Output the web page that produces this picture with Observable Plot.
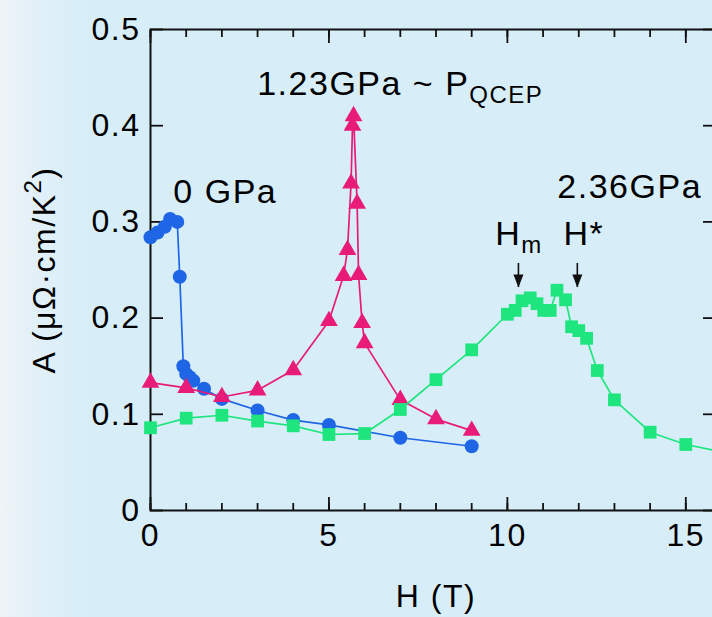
<!DOCTYPE html>
<html>
<head>
<meta charset="utf-8">
<script src="https://cdn.jsdelivr.net/npm/d3@7"></script>
<script src="https://cdn.jsdelivr.net/npm/@observablehq/plot@0.6"></script>
<style>
  html, body { margin: 0; padding: 0; overflow: hidden; width: 712px; height: 617px; }
  body { background: linear-gradient(to right, #eef3f6 0px, #e2f0f8 35px, #d7eef9 85px, #d7eef9 100%); }
  #chart svg text { letter-spacing: 1.5px; }
</style>
</head>
<body>
<div id="chart"></div>
<script>
// A coefficient (μΩ·cm/K²) versus field H (T) at three pressures
const gpa0H = [0, 0.2, 0.4, 0.55, 0.75, 0.82, 0.92, 1.0, 1.1, 1.2, 1.5, 2, 3, 4, 5, 7, 9];
const gpa0A = [0.284, 0.289, 0.295, 0.303, 0.300, 0.243, 0.150, 0.142, 0.1386, 0.135, 0.1265, 0.116, 0.104, 0.094, 0.089, 0.0756, 0.0668];

const gpa123H = [0, 1, 2, 3, 4, 5, 5.41, 5.52, 5.62, 5.66, 5.69, 5.79, 5.83, 5.93, 6.0, 7, 8, 9];
const gpa123A = [0.133, 0.1275, 0.118, 0.125, 0.146, 0.197, 0.244, 0.271, 0.340, 0.400, 0.410, 0.319, 0.245, 0.195, 0.174, 0.115, 0.095, 0.083];

const gpa236H = [0, 1, 2, 3, 4, 5, 6, 7, 8, 9, 10, 10.22, 10.41, 10.64, 10.83, 11.02, 11.2, 11.39, 11.63, 11.8, 12.0, 12.22, 12.52, 13, 14, 15, 16];
const gpa236A = [0.086, 0.096, 0.099, 0.093, 0.088, 0.079, 0.080, 0.105, 0.136, 0.167, 0.204, 0.208, 0.218, 0.221, 0.215, 0.208, 0.208, 0.229, 0.219, 0.191, 0.187, 0.179, 0.1455, 0.115, 0.0814, 0.0686, 0.061];

// Tick values and labels
const xMajor = [0, 5, 10, 15];
const xMinor = d3.range(0, 17);
const yMajor = [0, 0.1, 0.2, 0.3, 0.4, 0.5];
const yTickLabels = ["0", "0.1", "0.2", "0.3", "0.4", "0.5"];

// Annotations: text, subscript, anchor point (H, A)
const noteText = ["0 GPa", "1.23GPa ~ P", "2.36GPa", "H", "H*"];
const noteSub = ["", "QCEP", "", "m", ""];
const noteH = [0.64, 2.99, 11.40, 9.66, 11.57];
const noteA = [0.3306, 0.443, 0.336, 0.287, 0.287];

// Arrows marking Hm and H*
const arrowH = [10.31, 11.96];
const arrowTop = [0.2568, 0.2568];
const arrowTip = [0.2318, 0.2318];

const blue = "#1f66e6", pink = "#e81c78", green = "#1ee57e", ink = "#111", textInk = "#000";

const zip = (xs, ys) => xs.map((x, i) => ({H: x, A: ys[i]}));
const s0 = zip(gpa0H, gpa0A);
const s1 = zip(gpa123H, gpa123A);
const s2 = zip(gpa236H, gpa236A);
const notes = noteText.map((t, i) => ({t, sub: noteSub[i], H: noteH[i], A: noteA[i]}));
const arrows = arrowH.map((h, i) => ({H: h, top: arrowTop[i], tip: arrowTip[i]}));

// Narrow filled arrowhead, tip at the origin pointing down
const arrowHead = {
  draw(ctx) {
    ctx.moveTo(0, 0);
    ctx.lineTo(-5, -13);
    ctx.lineTo(5, -13);
    ctx.closePath();
  }
};

const font = "'Liberation Sans', Arial, Helvetica, sans-serif";
const yLabel = "A (μΩ·cm/K)";

const chart = Plot.plot({
  width: 712,
  height: 617,
  marginLeft: 150,
  marginRight: -9,
  marginTop: 29,
  marginBottom: 107,
  style: {background: "transparent", fontFamily: font, overflow: "hidden", color: textInk},
  x: {domain: [0, 16]},
  y: {domain: [0, 0.5]},
  marks: [
    Plot.frame({stroke: ink, strokeWidth: 2}),
    // minor and major ticks, pointing inward
    Plot.axisX(xMinor, {anchor: "bottom", tickSize: -7, fill: "none", stroke: ink, strokeWidth: 1.8, label: null}),
    Plot.axisX(xMinor, {anchor: "top", tickSize: -7, fill: "none", stroke: ink, strokeWidth: 1.8, label: null}),
    Plot.axisX(xMajor, {anchor: "top", tickSize: -13, fill: "none", stroke: ink, strokeWidth: 1.8, label: null}),
    Plot.axisX(xMajor, {
      anchor: "bottom", tickSize: -13, tickPadding: 26, stroke: ink, strokeWidth: 1.8, fill: textInk,
      fontSize: 32, tickFormat: d => String(d),
      label: "H (T)", labelAnchor: "center", labelArrow: "none", labelOffset: 96
    }),
    Plot.axisY(yMajor, {
      anchor: "left", tickSize: -13, tickPadding: 23, stroke: ink, strokeWidth: 1.8, fill: textInk,
      fontSize: 32, tickFormat: (d, i) => yTickLabels[i],
      label: yLabel, labelAnchor: "center", labelArrow: "none", labelOffset: 118
    }),
    Plot.axisY(yMajor, {anchor: "right", tickSize: -19, fill: "none", stroke: ink, strokeWidth: 1.8, label: null}),

    // 0 GPa
    Plot.line(s0, {x: "H", y: "A", stroke: blue, strokeWidth: 1.7}),
    Plot.dot(s0, {x: "H", y: "A", fill: blue, r: 7, symbol: "circle"}),
    // 1.23 GPa
    Plot.line(s1, {x: "H", y: "A", stroke: pink, strokeWidth: 1.7}),
    Plot.dot(s1, {x: "H", y: "A", fill: pink, r: 6.6, symbol: "triangle"}),
    // 2.36 GPa
    Plot.line(s2, {x: "H", y: "A", stroke: green, strokeWidth: 1.7}),
    Plot.dot(s2, {x: "H", y: "A", fill: green, r: 7.2, symbol: "square"}),

    // Hm and H* arrows
    Plot.ruleX(arrows, {x: "H", y1: "top", y2: "tip", stroke: ink, strokeWidth: 1.6}),
    Plot.dot(arrows, {x: "H", y: "tip", symbol: arrowHead, fill: ink, stroke: "none"}),

    // labels
    Plot.text(notes, {x: "H", y: "A", text: "t", textAnchor: "start", fontSize: 34, fill: textInk})
  ]
});

// Subscripts (P_QCEP, H_m) and the K² superscript
d3.select(chart).selectAll("text").each(function () {
  const el = d3.select(this);
  const txt = el.text();
  const n = notes.find(d => d.t === txt && d.sub);
  if (n) el.append("tspan").attr("dy", 8).attr("font-size", 24).text(n.sub);
  if (txt === yLabel) {
    el.text("A (μΩ·cm/K");
    el.append("tspan").attr("dy", -14).attr("font-size", 24).text("2");
    el.append("tspan").attr("dy", 14).text(")");
  }
});

document.getElementById("chart").append(chart);
</script>
</body>
</html>
